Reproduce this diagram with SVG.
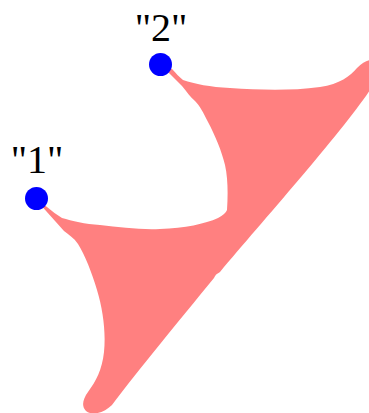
<svg xmlns="http://www.w3.org/2000/svg" width="369" height="413" viewBox="0 0 369 413">
<style>
.lbl{font-family:"Liberation Serif","Times New Roman",serif;font-size:40px;fill:#000;text-anchor:middle}
.dot{fill:#0000ff}
.band{fill:#ff8080;stroke:none}
</style>
<rect width="369" height="413" fill="#fff"/>
<g id="connectors">
<path class="band" d="M 38,200 L 47,207 C 52,211 57,215 62,218 C 72,221 85,224 100,225 C 120,227 140,230 160,229 C 185,228 205,224 218,218 C 223,215 226,213 227,210 C 228,195 228,178 225,165 C 222,152 215,135 208,122 C 203,112 200,106 195,101 C 190,97 187,92 182,86 L 162,66 L 172,69 C 176,73 179,77 183,80 C 195,84 210,87 230,88 C 260,90 290,91 320,87 C 340,84 350,76 357,68 C 362,63 366,61 370,60 L 370,90 C 342,132 262,222 220,272 C 217,274 216,274 214,278 C 178,322 140,368 112,405 C 104,413 92,416 86,411 C 81,406 83,399 88,392 C 96,381 102,370 104,352 C 106,332 103,310 97,290 C 92,273 85,255 78,244 C 74,238 68,234 64,231 L 38,202 Z"/>
</g>
<g id="node1">
<circle class="dot" cx="36.5" cy="198.5" r="11.5"/>
<text class="lbl" x="37" y="173">"1"</text>
</g>
<g id="node2">
<circle class="dot" cx="160.5" cy="64.5" r="11.5"/>
<text class="lbl" x="161" y="41">"2"</text>
</g>
</svg>
